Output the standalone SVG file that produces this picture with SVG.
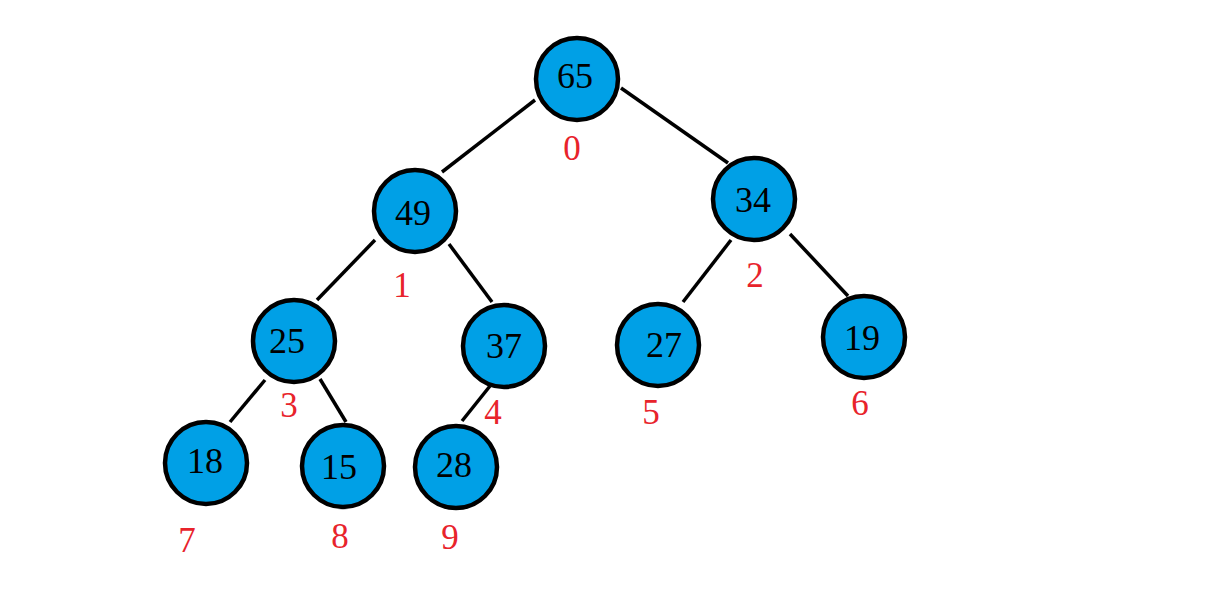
<svg xmlns="http://www.w3.org/2000/svg" width="1227" height="603" viewBox="0 0 1227 603">
<style>
.n circle{fill:#00A0E6;stroke:#000;stroke-width:4.5}
.n text{font-family:"Liberation Serif",serif;font-size:36px;fill:#000;text-anchor:middle}
.lbl{font-family:"Liberation Serif",serif;font-size:35px;fill:#E8232B;text-anchor:middle}
.e line{stroke:#000;stroke-width:3.5}
</style>
<rect width="1227" height="603" fill="#fff"/>
<g id="edges" class="e">
<line x1="535" y1="100" x2="442" y2="172"/>
<line x1="621" y1="88" x2="728" y2="163"/>
<line x1="375" y1="240" x2="317" y2="300"/>
<line x1="449" y1="244" x2="492" y2="302"/>
<line x1="731" y1="240" x2="683" y2="302"/>
<line x1="790" y1="234" x2="848" y2="296"/>
<line x1="265" y1="380" x2="230" y2="422"/>
<line x1="320" y1="379" x2="346" y2="422"/>
<line x1="490" y1="386" x2="462" y2="421"/>
</g>
<g id="n65" class="n"><circle cx="577" cy="79" r="41"/><text x="575" y="88">65</text></g>
<g id="n49" class="n"><circle cx="415" cy="211" r="41"/><text x="413" y="225">49</text></g>
<g id="n34" class="n"><circle cx="754" cy="199" r="41"/><text x="753" y="212">34</text></g>
<g id="n25" class="n"><circle cx="294" cy="341" r="41"/><text x="287" y="353">25</text></g>
<g id="n37" class="n"><circle cx="504" cy="346" r="41"/><text x="504" y="358">37</text></g>
<g id="n27" class="n"><circle cx="658" cy="345" r="41"/><text x="664" y="357">27</text></g>
<g id="n19" class="n"><circle cx="864" cy="337" r="41"/><text x="862" y="350">19</text></g>
<g id="n18" class="n"><circle cx="206" cy="463" r="41"/><text x="205" y="473">18</text></g>
<g id="n15" class="n"><circle cx="343" cy="466" r="41"/><text x="339" y="479">15</text></g>
<g id="n28" class="n"><circle cx="456" cy="467" r="41"/><text x="454" y="477">28</text></g>
<g id="labels">
<text class="lbl" x="572" y="160">0</text>
<text class="lbl" x="402" y="297">1</text>
<text class="lbl" x="755" y="287">2</text>
<text class="lbl" x="289" y="417">3</text>
<text class="lbl" x="493" y="424">4</text>
<text class="lbl" x="651" y="424">5</text>
<text class="lbl" x="860" y="415">6</text>
<text class="lbl" x="187" y="552">7</text>
<text class="lbl" x="340" y="548">8</text>
<text class="lbl" x="450" y="549">9</text>
</g>
</svg>
